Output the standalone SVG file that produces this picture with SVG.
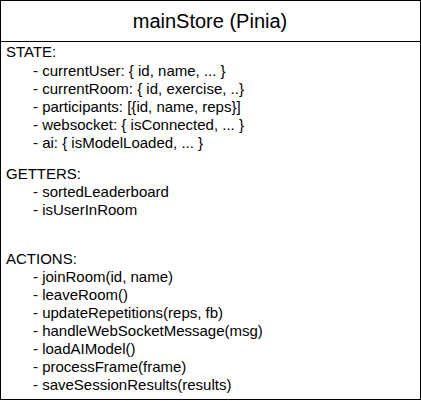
<svg xmlns="http://www.w3.org/2000/svg" width="421" height="401" viewBox="0 0 421 401">
<style>
.box{fill:#fff;stroke:#000;stroke-width:1}
.t{font-family:"Liberation Sans",Arial,sans-serif;font-size:15px;fill:#000}
.title{font-family:"Liberation Sans",Arial,sans-serif;font-size:20px;fill:#000;text-anchor:middle}
</style>
<rect width="421" height="401" fill="#fff"/>
<g id="mainStore">
<rect class="box" x="0.5" y="0.5" width="420" height="399"/>
<line x1="0.5" y1="41.5" x2="420.5" y2="41.5" stroke="#000"/>
<text class="title" x="210" y="28">mainStore (Pinia)</text>
<text class="t" x="6" y="57">STATE:</text>
<text class="t" x="33" y="76">- currentUser: { id, name, ... }</text>
<text class="t" x="33" y="94">- currentRoom: { id, exercise, ..}</text>
<text class="t" x="33" y="112">- participants: [{id, name, reps}]</text>
<text class="t" x="33" y="130">- websocket: { isConnected, ... }</text>
<text class="t" x="33" y="148">- ai: { isModelLoaded, ... }</text>
<text class="t" x="6" y="179">GETTERS:</text>
<text class="t" x="33" y="197">- sortedLeaderboard</text>
<text class="t" x="33" y="215">- isUserInRoom</text>
<text class="t" x="6" y="264">ACTIONS:</text>
<text class="t" x="33" y="282">- joinRoom(id, name)</text>
<text class="t" x="33" y="300">- leaveRoom()</text>
<text class="t" x="33" y="318">- updateRepetitions(reps, fb)</text>
<text class="t" x="33" y="336">- handleWebSocketMessage(msg)</text>
<text class="t" x="33" y="354">- loadAIModel()</text>
<text class="t" x="33" y="372">- processFrame(frame)</text>
<text class="t" x="33" y="390">- saveSessionResults(results)</text>
</g>
</svg>
